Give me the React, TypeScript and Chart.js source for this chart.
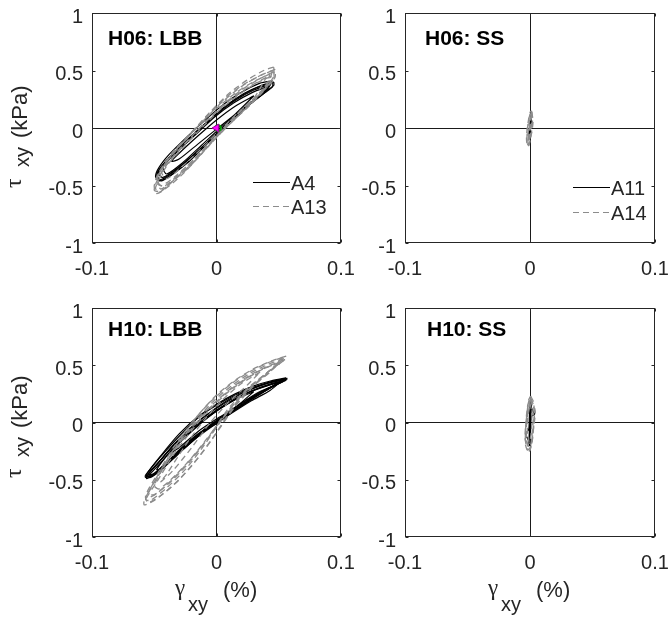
import React, { useEffect, useRef } from 'react';
import { Chart, registerables } from 'chart.js';

Chart.register(...registerables);

type Loop = number[][];

// ---------- tick values ----------
const X_TICKS = [-0.1, 0, 0.1];
const Y_TICKS = [-1, -0.5, 0, 0.5, 1];

// ---------- H06: LBB ----------
const H06_LBB_A4: Loop[] = [
  [[0.045,0.41],[0.035,0.39],[0.02,0.31],[0.005,0.2],[-0.01,0.06],[-0.025,-0.09],[-0.038,-0.23],[-0.046,-0.34],[-0.049,-0.42],[-0.046,-0.46],[-0.035,-0.40],[-0.02,-0.27],[-0.005,-0.11],[0.01,0.05],[0.025,0.19],[0.038,0.30],[0.045,0.36],[0.045,0.41]],
  [[0.044,0.39],[0.032,0.35],[0.017,0.26],[0.002,0.14],[-0.013,0.0],[-0.028,-0.15],[-0.041,-0.29],[-0.048,-0.40],[-0.045,-0.45],[-0.032,-0.36],[-0.017,-0.22],[-0.002,-0.07],[0.013,0.08],[0.028,0.22],[0.04,0.32],[0.044,0.39]],
  [[0.043,0.38],[0.03,0.33],[0.015,0.24],[0.0,0.12],[-0.015,-0.03],[-0.03,-0.17],[-0.042,-0.31],[-0.047,-0.39],[-0.043,-0.43],[-0.03,-0.34],[-0.015,-0.2],[0.0,-0.05],[0.015,0.1],[0.03,0.24],[0.04,0.33],[0.043,0.38]],
  [[0.046,0.40],[0.036,0.37],[0.022,0.30],[0.007,0.19],[-0.008,0.05],[-0.023,-0.1],[-0.036,-0.24],[-0.045,-0.36],[-0.048,-0.44],[-0.044,-0.46],[-0.034,-0.39],[-0.022,-0.29],[-0.008,-0.14],[0.007,0.02],[0.022,0.16],[0.036,0.29],[0.046,0.37],[0.046,0.40]],
  [[0.041,0.36],[0.029,0.31],[0.014,0.22],[-0.001,0.1],[-0.016,-0.05],[-0.031,-0.2],[-0.043,-0.34],[-0.04,-0.40],[-0.027,-0.3],[-0.012,-0.15],[0.003,0.0],[0.018,0.14],[0.032,0.26],[0.041,0.36]],
  [[0.03,0.28],[0.015,0.19],[0.0,0.07],[-0.015,-0.07],[-0.03,-0.22],[-0.036,-0.29],[-0.03,-0.27],[-0.015,-0.14],[0.0,-0.01],[0.015,0.12],[0.03,0.28]],
];
const H06_LBB_A13: Loop[] = [
  [[0.046,0.53],[0.038,0.5],[0.025,0.42],[0.01,0.3],[-0.005,0.14],[-0.02,-0.04],[-0.033,-0.2],[-0.044,-0.35],[-0.05,-0.5],[-0.048,-0.57],[-0.04,-0.52],[-0.028,-0.41],[-0.014,-0.25],[0.0,-0.08],[0.015,0.08],[0.03,0.24],[0.041,0.37],[0.046,0.45],[0.046,0.53]],
  [[0.045,0.5],[0.034,0.45],[0.02,0.36],[0.005,0.23],[-0.01,0.07],[-0.025,-0.1],[-0.038,-0.26],[-0.047,-0.42],[-0.045,-0.53],[-0.035,-0.46],[-0.022,-0.34],[-0.008,-0.17],[0.006,0.0],[0.02,0.16],[0.033,0.29],[0.042,0.4],[0.045,0.5]],
  [[0.047,0.51],[0.036,0.46],[0.022,0.38],[0.007,0.26],[-0.008,0.1],[-0.023,-0.07],[-0.036,-0.22],[-0.046,-0.38],[-0.049,-0.47],[-0.044,-0.5],[-0.032,-0.41],[-0.018,-0.27],[-0.003,-0.1],[0.012,0.07],[0.027,0.22],[0.039,0.35],[0.047,0.44],[0.047,0.51]],
  [[0.043,0.47],[0.031,0.41],[0.016,0.31],[0.001,0.18],[-0.014,0.02],[-0.029,-0.15],[-0.041,-0.31],[-0.048,-0.45],[-0.043,-0.51],[-0.031,-0.41],[-0.017,-0.26],[-0.002,-0.1],[0.013,0.06],[0.028,0.21],[0.039,0.34],[0.043,0.47]],
  [[0.044,0.45],[0.032,0.39],[0.018,0.29],[0.003,0.16],[-0.012,0.0],[-0.027,-0.17],[-0.04,-0.33],[-0.049,-0.52],[-0.046,-0.56],[-0.036,-0.47],[-0.023,-0.34],[-0.009,-0.18],[0.005,-0.02],[0.02,0.13],[0.034,0.28],[0.044,0.45]],
  [[0.04,0.44],[0.028,0.37],[0.013,0.26],[-0.002,0.12],[-0.017,-0.04],[-0.032,-0.22],[-0.044,-0.38],[-0.04,-0.44],[-0.028,-0.34],[-0.014,-0.2],[0.001,-0.04],[0.016,0.12],[0.03,0.26],[0.04,0.44]],
  [[0.046,0.49],[0.035,0.43],[0.02,0.33],[0.005,0.2],[-0.01,0.04],[-0.025,-0.13],[-0.038,-0.29],[-0.047,-0.44],[-0.05,-0.54],[-0.045,-0.55],[-0.033,-0.44],[-0.018,-0.29],[-0.004,-0.13],[0.011,0.04],[0.026,0.2],[0.038,0.33],[0.046,0.42],[0.046,0.49]],
];
const H06_LBB_START_TRI = [[0.0, 0.0]];
const H06_LBB_START_CIRC = [[0.0012, 0.0]];

// ---------- H06: SS ----------
const H06_SS_A11: Loop[] = [
  [[0.0008,0.11],[0.0004,0.06],[-0.0002,0.0],[-0.0008,-0.06],[-0.0012,-0.10],[-0.0006,-0.09],[0.0,-0.04],[0.0005,0.02],[0.001,0.08],[0.0008,0.11]],
  [[0.0006,0.08],[0.0,0.03],[-0.0006,-0.03],[-0.001,-0.08],[-0.0004,-0.06],[0.0002,-0.01],[0.0008,0.05],[0.0006,0.08]],
];
const H06_SS_A14: Loop[] = [
  [[0.0012,0.15],[0.002,0.08],[0.0016,0.0],[0.0006,-0.08],[-0.0008,-0.15],[-0.002,-0.16],[-0.0028,-0.1],[-0.0024,-0.02],[-0.0012,0.07],[0.0002,0.14],[0.0012,0.15]],
  [[0.0008,0.13],[0.0012,0.06],[0.0006,-0.03],[-0.0004,-0.11],[-0.0014,-0.14],[-0.0018,-0.08],[-0.0012,0.0],[-0.0004,0.08],[0.0008,0.13]],
  [[0.001,0.12],[0.0006,0.04],[0.0,-0.04],[-0.001,-0.12],[-0.0016,-0.12],[-0.001,-0.04],[-0.0002,0.05],[0.001,0.12]],
  [[0.0015,0.14],[0.0024,0.05],[0.001,-0.06],[-0.0012,-0.15],[-0.0025,-0.12],[-0.0018,0.02],[0.0,0.12],[0.0015,0.14]],
];

// ---------- H10: LBB ----------
const H10_LBB_A4: Loop[] = [
  [[0.057,0.385],[0.045,0.36],[0.03,0.31],[0.015,0.24],[0.0,0.15],[-0.015,0.04],[-0.03,-0.12],[-0.045,-0.30],[-0.057,-0.46],[-0.057,-0.48],[-0.05,-0.45],[-0.04,-0.35],[-0.03,-0.24],[-0.015,-0.10],[0.0,-0.01],[0.015,0.11],[0.03,0.22],[0.045,0.31],[0.057,0.38]],
  [[0.055,0.38],[0.043,0.35],[0.028,0.29],[0.013,0.21],[-0.002,0.11],[-0.017,-0.01],[-0.032,-0.17],[-0.046,-0.34],[-0.056,-0.47],[-0.052,-0.47],[-0.042,-0.38],[-0.028,-0.24],[-0.013,-0.1],[0.002,0.02],[0.018,0.14],[0.033,0.25],[0.047,0.33],[0.055,0.38]],
  [[0.056,0.37],[0.044,0.34],[0.029,0.28],[0.014,0.2],[-0.001,0.1],[-0.016,-0.02],[-0.031,-0.16],[-0.045,-0.33],[-0.055,-0.45],[-0.051,-0.45],[-0.04,-0.35],[-0.026,-0.21],[-0.011,-0.07],[0.004,0.05],[0.02,0.17],[0.035,0.27],[0.048,0.33],[0.056,0.37]],
  [[0.054,0.36],[0.04,0.32],[0.025,0.26],[0.01,0.17],[-0.005,0.06],[-0.02,-0.07],[-0.035,-0.23],[-0.048,-0.39],[-0.055,-0.47],[-0.049,-0.44],[-0.036,-0.32],[-0.021,-0.17],[-0.006,-0.04],[0.009,0.08],[0.025,0.2],[0.04,0.29],[0.054,0.36]],
  [[0.03,0.27],[0.015,0.2],[0.0,0.1],[-0.015,-0.03],[-0.03,-0.18],[-0.038,-0.27],[-0.03,-0.22],[-0.015,-0.08],[0.0,0.03],[0.015,0.13],[0.03,0.27]],
  [[0.056,0.39],[0.044,0.365],[0.03,0.32],[0.015,0.25],[0.0,0.16],[-0.015,0.05],[-0.03,-0.1],[-0.044,-0.28],[-0.056,-0.45],[-0.056,-0.49],[-0.048,-0.44],[-0.038,-0.34],[-0.027,-0.22],[-0.012,-0.08],[0.003,0.03],[0.018,0.13],[0.033,0.24],[0.046,0.32],[0.056,0.39]],
  [[0.053,0.37],[0.04,0.34],[0.025,0.28],[0.01,0.2],[-0.005,0.09],[-0.02,-0.04],[-0.035,-0.2],[-0.048,-0.37],[-0.056,-0.47],[-0.053,-0.48],[-0.044,-0.41],[-0.032,-0.29],[-0.018,-0.15],[-0.003,-0.03],[0.012,0.08],[0.028,0.19],[0.043,0.28],[0.053,0.37]],
  [[0.05,0.35],[0.038,0.31],[0.023,0.25],[0.008,0.16],[-0.007,0.05],[-0.022,-0.09],[-0.036,-0.24],[-0.048,-0.41],[-0.045,-0.41],[-0.035,-0.31],[-0.022,-0.19],[-0.008,-0.06],[0.007,0.06],[0.022,0.16],[0.037,0.26],[0.05,0.35]],
];
const H10_LBB_A13: Loop[] = [
  [[0.056,0.58],[0.045,0.54],[0.03,0.47],[0.015,0.37],[0.0,0.24],[-0.015,0.06],[-0.03,-0.16],[-0.045,-0.42],[-0.058,-0.68],[-0.058,-0.72],[-0.05,-0.68],[-0.035,-0.55],[-0.02,-0.38],[-0.005,-0.17],[0.01,0.08],[0.025,0.28],[0.04,0.42],[0.056,0.56]],
  [[0.054,0.56],[0.042,0.51],[0.027,0.43],[0.012,0.32],[-0.003,0.18],[-0.018,0.0],[-0.033,-0.22],[-0.047,-0.47],[-0.057,-0.67],[-0.053,-0.68],[-0.04,-0.57],[-0.025,-0.41],[-0.01,-0.2],[0.005,0.04],[0.02,0.24],[0.036,0.39],[0.054,0.56]],
  [[0.055,0.55],[0.043,0.5],[0.028,0.42],[0.013,0.31],[-0.002,0.17],[-0.017,0.0],[-0.032,-0.21],[-0.046,-0.45],[-0.055,-0.62],[-0.05,-0.63],[-0.037,-0.52],[-0.022,-0.35],[-0.007,-0.14],[0.008,0.1],[0.023,0.28],[0.04,0.43],[0.055,0.55]],
  [[0.052,0.53],[0.04,0.48],[0.025,0.39],[0.01,0.27],[-0.005,0.12],[-0.02,-0.07],[-0.035,-0.29],[-0.048,-0.52],[-0.056,-0.66],[-0.048,-0.62],[-0.034,-0.48],[-0.019,-0.3],[-0.004,-0.1],[0.011,0.12],[0.026,0.3],[0.04,0.43],[0.052,0.53]],
  [[0.035,0.44],[0.02,0.34],[0.005,0.2],[-0.01,0.02],[-0.025,-0.2],[-0.04,-0.45],[-0.045,-0.52],[-0.035,-0.42],[-0.02,-0.22],[-0.005,0.0],[0.01,0.18],[0.025,0.33],[0.035,0.44]],
  [[0.053,0.57],[0.041,0.52],[0.026,0.44],[0.011,0.33],[-0.004,0.19],[-0.019,0.01],[-0.034,-0.21],[-0.048,-0.46],[-0.057,-0.64],[-0.055,-0.7],[-0.045,-0.64],[-0.03,-0.5],[-0.015,-0.31],[0.0,-0.09],[0.015,0.14],[0.03,0.32],[0.044,0.46],[0.053,0.57]],
  [[0.05,0.52],[0.038,0.47],[0.023,0.38],[0.008,0.26],[-0.007,0.11],[-0.022,-0.08],[-0.037,-0.3],[-0.05,-0.55],[-0.046,-0.58],[-0.032,-0.45],[-0.017,-0.27],[-0.002,-0.06],[0.013,0.14],[0.028,0.31],[0.042,0.43],[0.05,0.52]],
];

// ---------- H10: SS ----------
const H10_SS_A11: Loop[] = [
  [[0.0038,0.07],[0.0015,0.12],[0.0003,0.16],[-0.0005,0.05],[-0.001,-0.06],[-0.0035,-0.10],[-0.0015,-0.15],[-0.0003,-0.2],[0.0005,-0.06],[0.001,0.05],[0.0038,0.07]],
  [[0.001,0.2],[0.0008,0.08],[0.0,-0.05],[-0.0008,-0.17],[-0.0004,-0.05],[0.0004,0.08],[0.001,0.2]],
];
const H10_SS_A14: Loop[] = [
  [[0.0005,0.23],[0.0028,0.18],[0.0035,0.05],[0.0022,-0.1],[0.0005,-0.22],[-0.001,-0.26],[-0.0035,-0.2],[-0.0035,-0.05],[-0.0022,0.1],[-0.001,0.2],[0.0005,0.23]],
  [[0.0003,0.2],[0.002,0.14],[0.0025,0.02],[0.0015,-0.12],[0.0,-0.22],[-0.0025,-0.17],[-0.0028,-0.03],[-0.0015,0.1],[0.0003,0.2]],
  [[0.0,0.17],[0.0015,0.08],[0.0012,-0.06],[-0.0004,-0.18],[-0.002,-0.1],[-0.0018,0.04],[0.0,0.17]],
  [[0.0,0.22],[0.0032,0.12],[0.003,-0.02],[0.0018,-0.16],[-0.0005,-0.25],[-0.003,-0.14],[-0.0032,0.0],[-0.002,0.14],[0.0,0.22]],
  [[0.0008,0.21],[0.0042,0.1],[0.0028,-0.05],[0.001,-0.2],[-0.002,-0.24],[-0.004,-0.12],[-0.0025,0.05],[-0.0006,0.18],[0.0008,0.21]],
];

// ---------- styles / layout ----------
const SANS = '"Liberation Sans", Arial, Helvetica, sans-serif';
const SERIF = '"Liberation Serif", "Times New Roman", serif';
const AXIS_COLOR = '#262626';
const BLACK_LINE = '#000000';
const GRAY_LINE = '#8c8c8c';
const GRAY_DASH = [6, 4];
const W = 671;
const H = 617;
const YAXIS_W = 60;
const XAXIS_H = 40;

type Panel = {
  area: { l: number; r: number; t: number; b: number };
  title: string;
  titleX: number;
  titleY: number;
  names: string[];
  black: Loop[];
  gray: Loop[];
  legend?: { x: number; ys: number[] };
  markers?: boolean;
  yLabelDy?: number;
  xLabelDx?: number;
};

const PANELS: Panel[] = [
  { area: { l: 92, r: 341, t: 13, b: 243 }, title: 'H06: LBB', titleX: 108, titleY: 45, names: ['A4', 'A13'], black: H06_LBB_A4, gray: H06_LBB_A13, legend: { x: 253, ys: [190, 214] }, markers: true, yLabelDy: 0 },
  { area: { l: 405, r: 655, t: 13, b: 243 }, title: 'H06: SS', titleX: 425, titleY: 45, names: ['A11', 'A14'], black: H06_SS_A11, gray: H06_SS_A14, legend: { x: 573, ys: [195, 220] } },
  { area: { l: 92, r: 341, t: 308, b: 537 }, title: 'H10: LBB', titleX: 108, titleY: 336, names: ['A4', 'A13'], black: H10_LBB_A4, gray: H10_LBB_A13, yLabelDy: 290, xLabelDx: 0 },
  { area: { l: 405, r: 655, t: 308, b: 537 }, title: 'H10: SS', titleX: 427, titleY: 336, names: ['A11', 'A14'], black: H10_SS_A11, gray: H10_SS_A14, xLabelDx: 313 },
];

const fmt = (v: number | string) => {
  const n = Number(v);
  if (Math.abs(n) < 1e-9) return '0';
  return String(+n.toFixed(2));
};

function rotText(ctx: CanvasRenderingContext2D, text: string, font: string, baseX: number, startY: number) {
  ctx.save();
  ctx.font = font;
  ctx.translate(baseX, startY);
  ctx.rotate(-Math.PI / 2);
  ctx.fillText(text, 0, 0);
  ctx.restore();
}

const decorPlugin = {
  id: 'panelDecor',
  afterDraw(chart: any, _args: any, opts: any) {
    const p: Panel = opts.panel;
    const { ctx, chartArea: a } = chart;
    const xs = chart.scales.x;
    const ys = chart.scales.y;
    ctx.save();
    const l = Math.round(a.left) + 0.5;
    const r = Math.round(a.right) - 0.5;
    const t = Math.round(a.top) + 0.5;
    const b = Math.round(a.bottom) - 0.5;
    ctx.strokeStyle = AXIS_COLOR;
    ctx.lineWidth = 1;
    ctx.setLineDash([]);
    ctx.strokeRect(l, t, r - l, b - t);
    ctx.beginPath();
    Y_TICKS.forEach((v) => {
      const py = Math.round(ys.getPixelForValue(v)) + 0.5;
      ctx.moveTo(l, py); ctx.lineTo(l + 3, py);
      ctx.moveTo(r, py); ctx.lineTo(r - 3, py);
    });
    X_TICKS.forEach((v) => {
      const px = Math.round(xs.getPixelForValue(v)) + 0.5;
      ctx.moveTo(px, t); ctx.lineTo(px, t + 3);
      ctx.moveTo(px, b); ctx.lineTo(px, b - 3);
    });
    ctx.stroke();
    ctx.fillStyle = '#000';
    ctx.textAlign = 'left';
    ctx.textBaseline = 'alphabetic';
    ctx.font = `bold 21px ${SANS}`;
    ctx.fillText(p.title, p.titleX, p.titleY);
    if (p.legend) {
      ctx.font = `20px ${SANS}`;
      p.names.forEach((name, i) => {
        const by = p.legend!.ys[i];
        const ly = Math.round(by - 8) + 0.5;
        ctx.beginPath();
        ctx.lineWidth = 1;
        ctx.strokeStyle = i === 0 ? BLACK_LINE : GRAY_LINE;
        ctx.setLineDash(i === 0 ? [] : GRAY_DASH);
        ctx.moveTo(p.legend!.x, ly);
        ctx.lineTo(p.legend!.x + 37, ly);
        ctx.stroke();
        ctx.setLineDash([]);
        ctx.fillStyle = AXIS_COLOR;
        ctx.fillText(name, p.legend!.x + 38, by);
      });
    }
    ctx.fillStyle = AXIS_COLOR;
    if (p.yLabelDy !== undefined) {
      const d = p.yLabelDy;
      rotText(ctx, '\u03C4', `24px ${SERIF}`, 21, 188 + d);
      rotText(ctx, 'xy', `20px ${SANS}`, 29, 167 + d);
      rotText(ctx, '(kPa)', `22px ${SANS}`, 27, 138 + d);
    }
    if (p.xLabelDx !== undefined) {
      const d = p.xLabelDx;
      ctx.font = `23px ${SERIF}`;
      ctx.fillText('\u03B3', 175 + d, 595);
      ctx.font = `20px ${SANS}`;
      ctx.fillText('xy', 188 + d, 611);
      ctx.font = `22px ${SANS}`;
      ctx.fillText('(%)', 223 + d, 597);
    }
    ctx.restore();
  },
};

const toPts = (loop: Loop) => loop.map(([x, y]) => ({ x, y }));

function buildConfig(p: Panel): any {
  const datasets: any[] = [];
  if (p.markers) {
    datasets.push({
      data: toPts(H06_LBB_START_TRI), showLine: false, pointStyle: 'triangle', rotation: -90,
      pointRadius: 4.5, backgroundColor: '#ff00ff', borderColor: '#9a009a', borderWidth: 1,
    });
    datasets.push({
      data: toPts(H06_LBB_START_CIRC), showLine: false, pointStyle: 'circle',
      pointRadius: 3, backgroundColor: 'rgba(0,0,0,0)', borderColor: '#00a000', borderWidth: 1.5,
    });
  }
  p.gray.forEach((loop) => datasets.push({
    data: toPts(loop), showLine: true, borderColor: GRAY_LINE, borderWidth: 1.3, borderDash: GRAY_DASH,
    pointRadius: 0, tension: 0.25, fill: false,
  }));
  p.black.forEach((loop) => datasets.push({
    data: toPts(loop), showLine: true, borderColor: BLACK_LINE, borderWidth: 1.2,
    pointRadius: 0, tension: 0.25, fill: false,
  }));
  const gridColor = (c: any) => (c.tick && Math.abs(c.tick.value) < 1e-9 ? '#1a1a1a' : 'rgba(0,0,0,0)');
  const zeroPad = (s: any) => { s.paddingLeft = 0; s.paddingRight = 0; s.paddingTop = 0; s.paddingBottom = 0; };
  return {
    type: 'scatter',
    data: { datasets },
    options: {
      animation: false,
      responsive: false,
      devicePixelRatio: 1,
      events: [],
      layout: {
        autoPadding: false,
        padding: { left: p.area.l - YAXIS_W, top: p.area.t, right: W - p.area.r, bottom: H - p.area.b - XAXIS_H },
      },
      plugins: { legend: { display: false }, tooltip: { enabled: false }, title: { display: false }, panelDecor: { panel: p } },
      scales: {
        x: {
          type: 'linear', min: X_TICKS[0], max: X_TICKS[X_TICKS.length - 1],
          afterFit: (s: any) => { s.height = XAXIS_H; zeroPad(s); },
          afterBuildTicks: (s: any) => { s.ticks = X_TICKS.map((v) => ({ value: v })); },
          ticks: { color: AXIS_COLOR, font: { family: SANS, size: 20 }, padding: 14, maxRotation: 0, autoSkip: false, callback: fmt },
          grid: { drawTicks: false, color: gridColor, lineWidth: 1 },
          border: { display: false },
        },
        y: {
          type: 'linear', min: Y_TICKS[0], max: Y_TICKS[Y_TICKS.length - 1],
          afterFit: (s: any) => { s.width = YAXIS_W; zeroPad(s); },
          afterBuildTicks: (s: any) => { s.ticks = Y_TICKS.map((v) => ({ value: v })); },
          ticks: { color: AXIS_COLOR, font: { family: SANS, size: 20 }, padding: 9, labelOffset: 4, autoSkip: false, callback: fmt },
          grid: { drawTicks: false, color: gridColor, lineWidth: 1 },
          border: { display: false },
        },
      },
    },
    plugins: [decorPlugin],
  };
}

export default function App() {
  const refs = useRef<(HTMLCanvasElement | null)[]>([]);
  useEffect(() => {
    const charts = PANELS.map((p, i) => new Chart(refs.current[i] as HTMLCanvasElement, buildConfig(p)));
    return () => charts.forEach((c) => c.destroy());
  }, []);
  return (
    <div style={{ position: 'absolute', left: 0, top: 0, width: W, height: H, background: '#fff' }}>
      {PANELS.map((p, i) => (
        <canvas
          key={p.title}
          ref={(el) => { refs.current[i] = el; }}
          width={W}
          height={H}
          style={{ position: 'absolute', left: 0, top: 0, width: W, height: H }}
        />
      ))}
    </div>
  );
}
